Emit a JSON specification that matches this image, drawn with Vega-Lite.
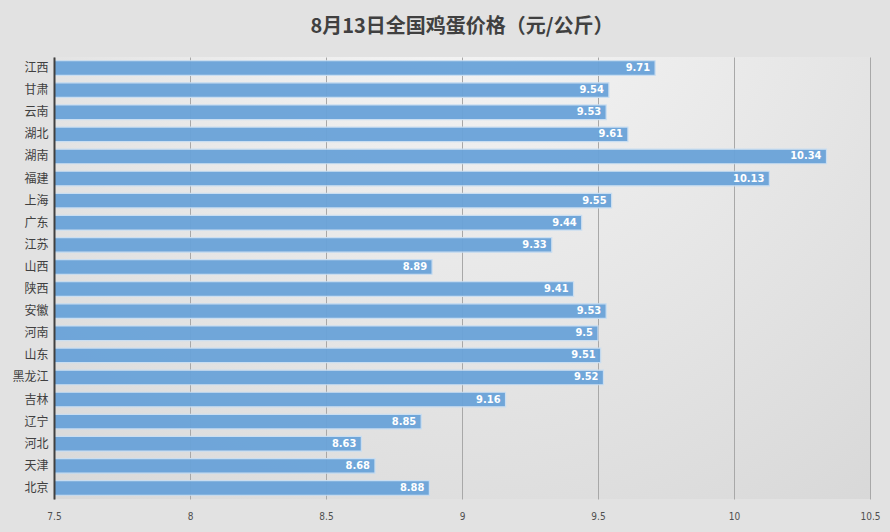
{
  "$schema": "https://vega.github.io/schema/vega-lite/v6.json",
  "autosize": {"type": "none"},
  "width": 816,
  "height": 442,
  "padding": {"left": 54, "top": 57, "right": 20, "bottom": 33},
  "background": "#e2e2e2",
  "view": {"stroke": null, "fill": {"gradient": "radial", "x1": 0.5, "y1": 0.1, "r1": 0, "x2": 0.5, "y2": 0.1, "r2": 0.9, "stops": [{"offset": 0, "color": "#f7f7f7"}, {"offset": 1, "color": "#d6d6d6"}]}},
  "title": {
    "text": "8月13日全国鸡蛋价格（元/公斤）",
    "font": "Noto Sans CJK SC",
    "fontSize": 20,
    "fontWeight": "bold",
    "color": "#404040",
    "anchor": "middle",
    "offset": 20
  },
  "data": {
    "values": [
      {"province": "江西", "price": 9.71},
      {"province": "甘肃", "price": 9.54},
      {"province": "云南", "price": 9.53},
      {"province": "湖北", "price": 9.61},
      {"province": "湖南", "price": 10.34},
      {"province": "福建", "price": 10.13},
      {"province": "上海", "price": 9.55},
      {"province": "广东", "price": 9.44},
      {"province": "江苏", "price": 9.33},
      {"province": "山西", "price": 8.89},
      {"province": "陕西", "price": 9.41},
      {"province": "安徽", "price": 9.53},
      {"province": "河南", "price": 9.5},
      {"province": "山东", "price": 9.51},
      {"province": "黑龙江", "price": 9.52},
      {"province": "吉林", "price": 9.16},
      {"province": "辽宁", "price": 8.85},
      {"province": "河北", "price": 8.63},
      {"province": "天津", "price": 8.68},
      {"province": "北京", "price": 8.88}
    ]
  },
  "encoding": {
    "y": {
      "field": "province",
      "type": "nominal",
      "sort": null,
      "scale": {"paddingInner": 0.34, "paddingOuter": 0.17},
      "axis": {
        "title": null,
        "ticks": false,
        "zindex": 2,
        "domainColor": "#404040",
        "domainWidth": 2,
        "labelFont": "Noto Sans CJK SC",
        "labelFontSize": 12,
        "labelColor": "#404040",
        "labelPadding": 6
      }
    },
    "x": {
      "field": "price",
      "type": "quantitative",
      "scale": {"domain": [7.5, 10.5], "zero": false},
      "axis": {
        "title": null,
        "values": [7.5, 8, 8.5, 9, 9.5, 10, 10.5],
        "format": "~g",
        "domain": false,
        "ticks": false,
        "grid": true,
        "gridColor": "#a8a8a8",
        "gridWidth": 1,
        "labelFont": "DejaVu Sans Condensed",
        "labelFontSize": 10,
        "labelColor": "#505050",
        "labelPadding": 12,
        "labelFlush": false
      }
    }
  },
  "layer": [
    {
      "mark": {"type": "bar", "clip": true, "color": "#6aa3d9", "stroke": "#c9def2", "strokeWidth": 1.2, "opacity": 0.95}
    },
    {
      "mark": {"type": "text", "align": "right", "baseline": "middle", "dx": -5, "color": "white", "fontWeight": "bold", "fontSize": 11, "font": "DejaVu Sans Condensed"},
      "encoding": {"text": {"field": "price", "type": "quantitative"}}
    }
  ]
}
